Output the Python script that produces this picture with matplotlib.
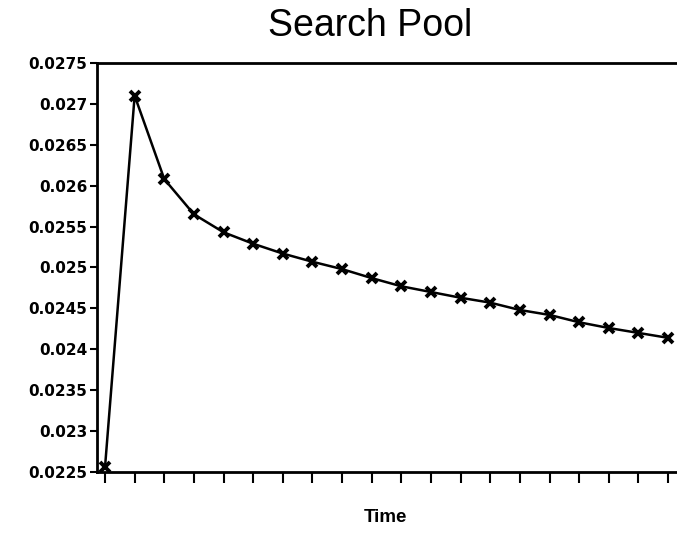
import numpy as np
import matplotlib
matplotlib.use('Agg')
import matplotlib.pyplot as plt

# values
steps = list(range(20))
pool = [0.02256, 0.02710, 0.02608, 0.02565, 0.02543, 0.02529, 0.02517,
        0.02507, 0.02498, 0.02487, 0.02477, 0.02470, 0.02463, 0.02457,
        0.02448, 0.02442, 0.02433, 0.02426, 0.02420, 0.02414]
yticks = [0.0225, 0.023, 0.0235, 0.024, 0.0245, 0.025, 0.0255, 0.026, 0.0265, 0.027, 0.0275]
ylabels = ['0.0225', '0.023', '0.0235', '0.024', '0.0245', '0.025', '0.0255',
           '0.026', '0.0265', '0.027', '0.0275']

plt.rcParams['font.family'] = ['Liberation Sans', 'DejaVu Sans']

fig = plt.figure(figsize=(6.77, 5.34), dpi=100)
ax = fig.add_axes([0.1433, 0.1161, 0.8567, 0.7660])

ax.plot(steps, pool, color='black', linewidth=1.8,
        marker='x', markersize=7, markeredgewidth=2.8)

ax.set_xlim(-0.27, 19.3)
ax.set_ylim(0.0225, 0.0275)
ax.set_xticks(steps)
ax.set_xticklabels([])
ax.set_yticks(yticks)
ax.set_yticklabels(ylabels, fontsize=11, fontweight='bold', family='DejaVu Sans')
ax.tick_params(axis='x', direction='out', length=8, width=1.5)
ax.tick_params(axis='y', direction='out', length=5, width=1.5, pad=2)

for s in ['left', 'bottom', 'top']:
    ax.spines[s].set_linewidth(2)
ax.spines['right'].set_visible(False)

# axis title and chart title placed in figure coords
fig.text(0.570, 0.030, 'Time', ha='center', va='center', fontsize=13.5, fontweight='bold')
fig.text(0.547, 0.951, 'Search Pool', ha='center', va='center', fontsize=27)

fig.savefig('out.png', dpi=100)
